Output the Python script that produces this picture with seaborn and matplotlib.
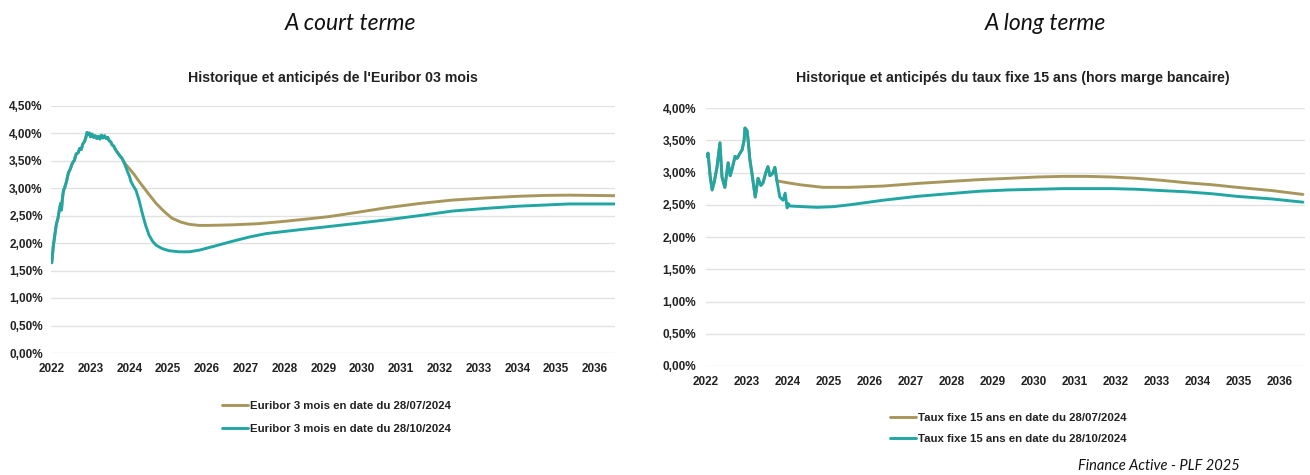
import matplotlib
matplotlib.use("Agg")
import matplotlib.pyplot as plt
import pandas as pd
import seaborn as sns
from matplotlib.ticker import FuncFormatter, MultipleLocator

GOLD = "#a8975c"
TEAL = "#22a6a3"

YEARS = list(range(2022, 2037))

# Euribor 3 mois : historique commun
euribor_hist_x = [2022.00, 2022.04, 2022.08, 2022.12, 2022.16, 2022.20, 2022.23, 2022.25, 2022.27, 2022.30,
                  2022.34, 2022.38, 2022.43, 2022.48, 2022.53, 2022.58, 2022.63, 2022.68, 2022.72, 2022.76,
                  2022.80, 2022.84, 2022.88, 2022.91, 2022.94, 2022.97, 2023.00, 2023.04, 2023.08, 2023.12,
                  2023.16, 2023.20, 2023.24, 2023.28, 2023.32, 2023.36, 2023.40, 2023.44, 2023.48, 2023.52,
                  2023.56, 2023.60, 2023.64, 2023.68, 2023.72, 2023.76, 2023.80, 2023.84]
euribor_hist_y = [1.64, 1.95, 2.15, 2.35, 2.45, 2.62, 2.72, 2.60, 2.78, 2.95,
                  3.02, 3.12, 3.28, 3.35, 3.45, 3.50, 3.62, 3.64, 3.72, 3.70,
                  3.80, 3.84, 3.92, 4.01, 3.97, 4.00, 3.93, 3.98, 3.92, 3.95,
                  3.90, 3.94, 3.89, 3.96, 3.91, 3.95, 3.90, 3.92, 3.86, 3.84,
                  3.78, 3.76, 3.70, 3.66, 3.62, 3.58, 3.55, 3.50]

# anticipations au 28/07/2024
euribor_jul_x = [2023.88, 2023.99, 2024.12, 2024.25, 2024.38, 2024.51, 2024.69, 2024.90, 2025.10, 2025.33,
                 2025.54, 2025.80, 2026.05, 2026.65, 2027.30, 2027.94, 2028.50, 2029.15, 2029.90, 2030.62,
                 2031.50, 2032.32, 2033.20, 2034.04, 2034.70, 2035.33, 2036.54]
euribor_jul_y = [3.45, 3.36, 3.25, 3.12, 3.00, 2.88, 2.72, 2.57, 2.45, 2.38,
                 2.34, 2.32, 2.32, 2.33, 2.35, 2.39, 2.43, 2.48, 2.56, 2.64,
                 2.72, 2.78, 2.82, 2.85, 2.865, 2.87, 2.86]

# anticipations au 28/10/2024
euribor_oct_x = [2023.91, 2023.95, 2024.00, 2024.04, 2024.10, 2024.17, 2024.25, 2024.33, 2024.42, 2024.51,
                 2024.60, 2024.69, 2024.84, 2025.02, 2025.28, 2025.54, 2025.80, 2026.18, 2026.65, 2027.10,
                 2027.52, 2028.00, 2028.37, 2029.15, 2029.90, 2030.62, 2031.50, 2032.32, 2033.20, 2034.04,
                 2034.70, 2035.33, 2036.54]
euribor_oct_y = [3.38, 3.30, 3.22, 3.12, 3.04, 2.96, 2.78, 2.55, 2.32, 2.14,
                 2.03, 1.96, 1.90, 1.86, 1.84, 1.84, 1.87, 1.94, 2.03, 2.11,
                 2.17, 2.21, 2.24, 2.30, 2.36, 2.42, 2.50, 2.58, 2.63, 2.67,
                 2.69, 2.71, 2.71]

# Taux fixe 15 ans : historique commun
fixe_hist_x = [2022.02, 2022.05, 2022.10, 2022.15, 2022.20, 2022.27, 2022.34, 2022.39, 2022.46, 2022.54,
               2022.59, 2022.63, 2022.71, 2022.76, 2022.83, 2022.88, 2022.93, 2022.95, 2023.00, 2023.02,
               2023.07, 2023.12, 2023.20, 2023.27, 2023.34, 2023.39, 2023.46, 2023.51, 2023.56, 2023.63,
               2023.68, 2023.73]
fixe_hist_y = [3.25, 3.30, 2.95, 2.73, 2.85, 3.09, 3.46, 2.93, 2.77, 3.15,
               2.95, 3.04, 3.25, 3.22, 3.30, 3.35, 3.50, 3.69, 3.65, 3.55,
               3.20, 2.99, 2.62, 2.91, 2.80, 2.84, 3.00, 3.09, 2.95, 2.99,
               3.08, 2.87]

fixe_jul_x = [2024.00, 2024.29, 2024.85, 2025.51, 2026.32, 2027.15, 2027.90, 2028.68, 2029.40, 2030.07,
              2030.70, 2031.29, 2031.90, 2032.51, 2033.10, 2033.73, 2034.35, 2034.95, 2035.80, 2036.56]
fixe_jul_y = [2.84, 2.81, 2.77, 2.77, 2.79, 2.83, 2.86, 2.89, 2.91, 2.93,
              2.94, 2.94, 2.93, 2.91, 2.88, 2.84, 2.81, 2.77, 2.72, 2.66]

fixe_oct_x = [2023.80, 2023.88, 2023.93, 2023.98, 2024.00, 2024.05, 2024.71, 2025.10, 2025.51, 2026.32,
              2027.15, 2027.90, 2028.68, 2029.40, 2030.07, 2030.70, 2031.29, 2031.90, 2032.51, 2033.10,
              2033.73, 2034.35, 2034.95, 2035.80, 2036.56]
fixe_oct_y = [2.62, 2.57, 2.68, 2.45, 2.52, 2.48, 2.46, 2.47, 2.50, 2.57,
              2.63, 2.67, 2.71, 2.73, 2.74, 2.75, 2.75, 2.75, 2.74, 2.72,
              2.70, 2.67, 2.63, 2.59, 2.54]

EURIBOR_LABELS = ["Euribor 3 mois en date du 28/07/2024", "Euribor 3 mois en date du 28/10/2024"]
FIXE_LABELS = ["Taux fixe 15 ans en date du 28/07/2024", "Taux fixe 15 ans en date du 28/10/2024"]


def build_frame(hist_x, hist_y, jul_x, jul_y, oct_x, oct_y, labels) -> pd.DataFrame:
    jul = pd.DataFrame({"year": hist_x + jul_x, "value": hist_y + jul_y, "serie": labels[0]})
    oct_ = pd.DataFrame({"year": hist_x + oct_x, "value": hist_y + oct_y, "serie": labels[1]})
    return pd.concat([jul, oct_], ignore_index=True)


def pct(v, _):
    return f"{v:.2f}".replace(".", ",") + "%"


def draw_panel(fig, ax, df, labels, ymax, xlim, ypad, legend_anchor, legend_spacing):
    sns.lineplot(data=df, x="year", y="value", hue="serie", hue_order=labels,
                 palette=[GOLD, TEAL], linewidth=2.1, ax=ax, legend=False)
    ax.set_xlim(*xlim)
    ax.set_ylim(0, ymax)
    ax.set_xticks(YEARS)
    ax.set_xticklabels([str(y) for y in YEARS])
    ax.yaxis.set_major_locator(MultipleLocator(0.5))
    ax.yaxis.set_major_formatter(FuncFormatter(pct))
    ax.grid(axis="y", color="#e2e2e2", linewidth=1.0)
    ax.grid(axis="x", visible=False)
    ax.set_axisbelow(True)
    for spine in ax.spines.values():
        spine.set_visible(False)
    ax.tick_params(axis="both", length=0, labelsize=8.5, colors="#222222")
    ax.tick_params(axis="y", pad=ypad)
    ax.tick_params(axis="x", pad=7.5)
    for lab in ax.get_xticklabels() + ax.get_yticklabels():
        lab.set_fontweight("bold")
    ax.set_xlabel("")
    ax.set_ylabel("")

    handles = [plt.Line2D([], [], color=GOLD, linewidth=2.1),
               plt.Line2D([], [], color=TEAL, linewidth=2.1)]
    leg = ax.legend(handles, labels, loc="center left", bbox_to_anchor=legend_anchor,
                    bbox_transform=fig.transFigure, frameon=False, borderpad=0, borderaxespad=0,
                    handlelength=2.3, handletextpad=0.12, labelspacing=legend_spacing,
                    prop={"size": 8.2, "weight": "bold"})
    for t in leg.get_texts():
        t.set_color("#222222")


def main() -> None:
    sns.set_theme(style="white")
    plt.rcParams["font.family"] = ["Liberation Sans", "DejaVu Sans"]

    fig = plt.figure(figsize=(13.1, 4.75), dpi=100)
    W, H = 1310, 475

    ax_left = fig.add_axes([51 / W, 1 - 353 / H, 564 / W, 247.5 / H])
    ax_right = fig.add_axes([706 / W, 1 - 366 / H, 599 / W, 258 / H])

    df_left = build_frame(euribor_hist_x, euribor_hist_y, euribor_jul_x, euribor_jul_y,
                          euribor_oct_x, euribor_oct_y, EURIBOR_LABELS)
    df_right = build_frame(fixe_hist_x, fixe_hist_y, fixe_jul_x, fixe_jul_y,
                           fixe_oct_x, fixe_oct_y, FIXE_LABELS)

    draw_panel(fig, ax_left, df_left, EURIBOR_LABELS, 4.5, (2021.98, 2036.52), 6,
               (222 / W, 1 - 417.5 / H), 1.15)
    draw_panel(fig, ax_right, df_right, FIXE_LABELS, 4.0, (2022.0, 2036.61), 7,
               (890 / W, 1 - 428.5 / H), 0.95)

    # titres
    fig.text(333 / W, 1 - 78 / H, "Historique et anticipés de l'Euribor 03 mois",
             ha="center", va="center", fontsize=10.2, fontweight="bold", color="#222222")
    fig.text(1013 / W, 1 - 78 / H, "Historique et anticipés du taux fixe 15 ans (hors marge bancaire)",
             ha="center", va="center", fontsize=10.2, fontweight="bold", color="#222222")

    fig.text(350 / W, 1 - 23 / H, "A court terme", ha="center", va="center",
             fontsize=16.5, style="italic", family="Lato", color="#111111")
    fig.text(1045 / W, 1 - 23 / H, "A long terme", ha="center", va="center",
             fontsize=16.5, style="italic", family="Lato", color="#111111")
    fig.text(1240 / W, 1 - 466 / H, "Finance Active - PLF 2025", ha="right", va="center",
             fontsize=10.5, style="italic", family="Lato", color="#111111")

    fig.savefig("out.png", dpi=100)
    plt.close(fig)


if __name__ == "__main__":
    main()
